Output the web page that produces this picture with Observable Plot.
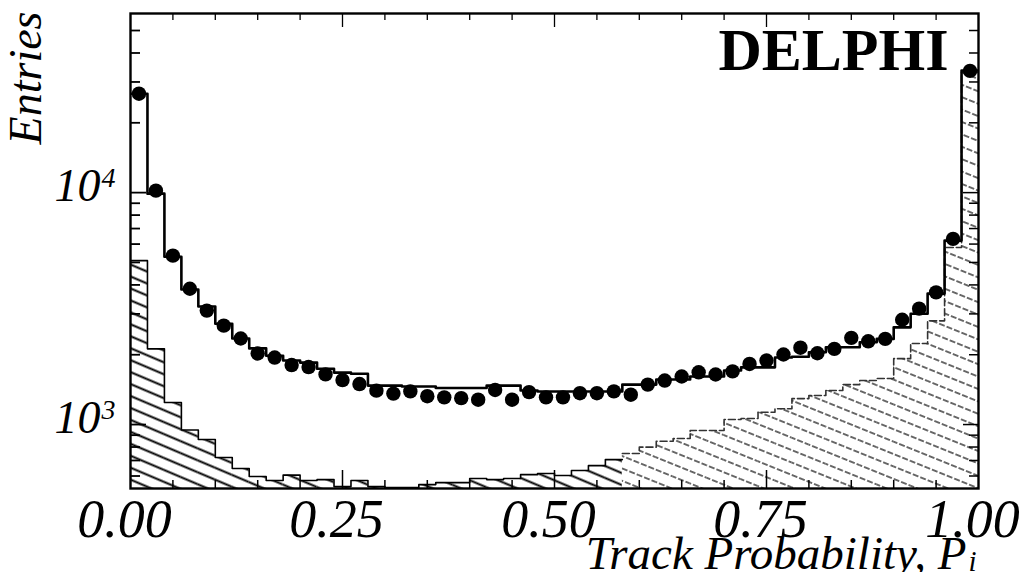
<!DOCTYPE html>
<html>
<head>
<meta charset="utf-8">
<script src="https://cdn.jsdelivr.net/npm/d3@7"></script>
<script src="https://cdn.jsdelivr.net/npm/@observablehq/plot@0.6"></script>
<style>
  html, body { margin: 0; padding: 0; background: #fff; }
</style>
</head>
<body>
<div id="chart"></div>
<script>
// Track probability distribution: 50 bins of width 0.02 over [0, 1]
const binWidth = 0.02;
const binLow = d3.range(50).map(i => +(i * binWidth).toFixed(2));

// Measured entries (points)
const dataEntries = [
  26700, 10200, 5350, 3850, 3100, 2670, 2350, 2025, 1945, 1805,
  1770, 1645, 1555, 1495, 1400, 1360, 1390, 1325, 1310, 1300,
  1280, 1410, 1280, 1380, 1310, 1310, 1365, 1365, 1390, 1345,
  1487, 1548, 1611, 1680, 1644, 1695, 1825, 1888, 2004, 2145,
  2030, 2120, 2365, 2285, 2340, 2830, 3160, 3715, 6320, 33500
];

// Simulated total (solid histogram)
const mcEntries = [
  26700, 9900, 5290, 3820, 3230, 2720, 2350, 2130, 1980, 1890,
  1850, 1740, 1675, 1655, 1472, 1472, 1458, 1458, 1437, 1437,
  1437, 1472, 1472, 1402, 1388, 1388, 1388, 1388, 1388, 1487,
  1487, 1563, 1563, 1611, 1611, 1709, 1765, 1765, 1945, 1960,
  2051, 2153, 2153, 2263, 2340, 2625, 3006, 3670, 6210, 33600
];

// Low-probability component (solid hatching)
const lowComponent = [
  5090, 2120, 1245, 947, 862, 721, 646, 597, 574, 605,
  574, 579, 540, 574, 540, 535, 535, 551, 562, 562,
  585, 579, 585, 608, 615, 603, 634, 665, 706, null,
  null, null, null, null, null, null, null, null, null, null,
  null, null, null, null, null, null, null, null, null, null
];

// High-probability component (dashed hatching)
const highComponent = [
  null, null, null, null, null, null, null, null, null, null,
  null, null, null, null, null, null, null, null, null, null,
  null, null, null, null, null, null, null, null, null, 750,
  799, 847, 871, 942, 942, 1051, 1062, 1130, 1170, 1294,
  1334, 1402, 1487, 1548, 1580, 1924, 2235, 2800, 5800, 33000
];

// Axis ticks and labels
const xMajorTicks = [0, 0.25, 0.5, 0.75, 1];
const xTickLabels = ["0.00", "0.25", "0.50", "0.75", "1.00"];
const xMinorTicks = [0.05, 0.10, 0.15, 0.20, 0.30, 0.35, 0.40, 0.45,
                     0.55, 0.60, 0.65, 0.70, 0.80, 0.85, 0.90, 0.95];
const xInnerMajor = [0.25, 0.5, 0.75];
const yMajorTicks = [1000, 10000];
const yTickBase = ["10", "10"];
const yTickExp = ["3", "4"];
const yMinorTicks = [600, 700, 800, 900, 2000, 3000, 4000, 5000, 6000,
                     7000, 8000, 9000, 20000, 30000, 40000, 50000];

const yDomain = [530, 59200];

const W = 1024, H = 572;
const mTop = 13, mRight = 46, mBottom = 84, mLeft = 130;
const innerH = H - mTop - mBottom;
const innerW = W - mLeft - mRight;

const bins = binLow.map((x0, i) => ({
  x0, x1: +(x0 + binWidth).toFixed(2), xc: x0 + binWidth / 2,
  data: dataEntries[i], mc: mcEntries[i],
  low: lowComponent[i], high: highComponent[i]
}));

function stepPoints(rows, key) {
  const pts = rows.map(r => ({x: r.x0, y: r[key]}));
  const last = rows[rows.length - 1];
  pts.push({x: last.x1, y: last[key]});
  return pts;
}

const lowBins = bins.filter(b => b.low != null);
const highBins = bins.filter(b => b.high != null);

const serif = "'Liberation Serif', 'DejaVu Serif', serif";

const chart = Plot.plot({
  width: W, height: H,
  marginTop: mTop, marginRight: mRight, marginBottom: mBottom, marginLeft: mLeft,
  style: {background: "#fff", overflow: "visible"},
  x: {domain: [0, 1], axis: null},
  y: {type: "log", domain: yDomain, axis: null},
  marks: [
    // hatched components
    Plot.rectY(lowBins, {x1: "x0", x2: "x1", y1: () => yDomain[0], y2: "low",
      fill: "url(#hatchLow)", clip: true}),
    Plot.rectY(highBins, {x1: "x0", x2: "x1", y1: () => yDomain[0], y2: "high",
      fill: "url(#hatchHigh)", clip: true}),
    Plot.line(stepPoints(lowBins, "low"), {x: "x", y: "y", curve: "step-after",
      stroke: "#000", strokeWidth: 1.6, clip: true}),
    Plot.line(stepPoints(highBins, "high"), {x: "x", y: "y", curve: "step-after",
      stroke: "#333", strokeWidth: 1.6, strokeDasharray: "7 3", clip: true}),
    // simulated total
    Plot.line(stepPoints(bins, "mc"), {x: "x", y: "y", curve: "step-after",
      stroke: "#000", strokeWidth: 2.6, clip: true}),
    // measured points
    Plot.dot(bins, {x: "xc", y: "data", r: 7.2, fill: "#000", stroke: "none"}),
    // frame and inward ticks
    Plot.frame({stroke: "#000", strokeWidth: 2.4}),
    Plot.tickX(xMinorTicks, {x: d => d, insetTop: innerH - 8, strokeWidth: 1.5}),
    Plot.tickX(xInnerMajor, {x: d => d, insetTop: innerH - 18, strokeWidth: 1.5}),
    Plot.tickX(xMinorTicks, {x: d => d, insetBottom: innerH - 7, strokeWidth: 1.3}),
    Plot.tickX(xInnerMajor, {x: d => d, insetBottom: innerH - 14, strokeWidth: 1.3}),
    Plot.tickY(yMinorTicks, {y: d => d, insetRight: innerW - 10, strokeWidth: 1.8}),
    Plot.tickY(yMajorTicks, {y: d => d, insetRight: innerW - 16, strokeWidth: 1.8}),
    Plot.tickY(yMinorTicks, {y: d => d, insetLeft: innerW - 9, strokeWidth: 1.5}),
    Plot.tickY(yMajorTicks, {y: d => d, insetLeft: innerW - 15, strokeWidth: 1.5}),
    // tick labels
    Plot.text(xMajorTicks, {x: d => d, text: (d, i) => xTickLabels[i],
      frameAnchor: "bottom", lineAnchor: "top", dx: -6, dy: 10,
      fontSize: 54, fontStyle: "italic", fontFamily: serif, fill: "#000"}),
    Plot.text(yMajorTicks, {y: d => d, text: (d, i) => yTickBase[i],
      frameAnchor: "left", textAnchor: "end", dx: -30, dy: -6,
      fontSize: 46, fontStyle: "italic", fontFamily: serif, fill: "#000"}),
    Plot.text(yMajorTicks, {y: d => d, text: (d, i) => yTickExp[i],
      frameAnchor: "left", textAnchor: "start", dx: -29, dy: -15,
      fontSize: 28, fontStyle: "italic", fontFamily: serif, fill: "#000"}),
    // axis titles
    Plot.text(["Entries"], {frameAnchor: "top-left", rotate: -90, textAnchor: "end",
      lineAnchor: "top", dx: -122, dy: -2, fontSize: 46, fontStyle: "italic",
      fontFamily: serif, fill: "#000"}),
    Plot.text(["Track Probability, P"], {frameAnchor: "bottom-right", textAnchor: "end",
      lineAnchor: "top", dx: -12, dy: 47, fontSize: 47, fontStyle: "italic",
      fontFamily: serif, fill: "#000"}),
    Plot.text(["i"], {frameAnchor: "bottom-right", textAnchor: "start",
      lineAnchor: "top", dx: -10, dy: 62, fontSize: 29, fontStyle: "italic",
      fontFamily: serif, fill: "#000"}),
    // experiment label
    Plot.text(["DELPHI"], {frameAnchor: "top-right", textAnchor: "end", lineAnchor: "top",
      dx: -30, dy: 14, fontSize: 60, fontWeight: "bold", fontFamily: serif, fill: "#000"})
  ]
});

// hatch patterns used by the component fills
d3.select(chart).insert("defs", ":first-child").html(`
  <pattern id="hatchLow" patternUnits="userSpaceOnUse" width="40" height="11"
           patternTransform="rotate(23)">
    <line x1="0" y1="5.5" x2="40" y2="5.5" stroke="#000" stroke-width="2"/>
  </pattern>
  <pattern id="hatchHigh" patternUnits="userSpaceOnUse" width="40" height="11.5"
           patternTransform="rotate(22)">
    <line x1="0" y1="5.75" x2="40" y2="5.75" stroke="#333" stroke-width="1.5"
          stroke-dasharray="6 2"/>
  </pattern>
`);

document.getElementById("chart").appendChild(chart);
</script>
</body>
</html>
